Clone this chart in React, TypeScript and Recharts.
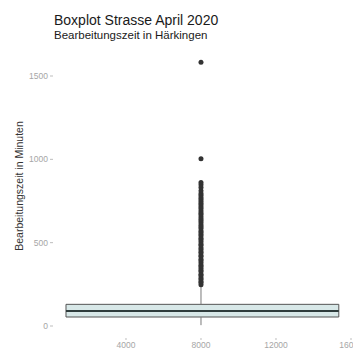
import {
  ComposedChart,
  Scatter,
  XAxis,
  YAxis,
  ReferenceArea,
  ReferenceLine,
} from 'recharts'

// x ticks and y ticks as shown on the axes
const xTicks = [4000, 8000, 12000, 16000]
const yTicks = [0, 500, 1000, 1500]

// box statistics (minutes)
const boxLeft = 800
const boxRight = 15350
const boxCenter = 8000
const q1 = 54
const median = 90
const q3 = 130
const whiskerLow = 5
const whiskerHigh = 240

// outliers above the upper whisker
const outliers = [
  248, 259, 267, 281, 290, 303, 311, 326, 334, 347, 359, 366, 380, 392, 401,
  415, 423, 438, 446, 459, 470, 484, 492, 505, 517, 526, 540, 551, 563, 572,
  586, 597, 608, 621, 633, 644, 655, 669, 678, 690, 703, 714, 726, 737, 749,
  760, 771, 784, 795, 812, 831, 848, 861, 1003, 1583,
]

const points = outliers.map((v) => ({ x: boxCenter, y: v }))

const font = '"Liberation Sans", Arial, sans-serif'
const tickStyle = { fill: '#a6a6a6', fontSize: 8.5, fontFamily: font }

const Dot = (props: any) => (
  <circle cx={props.cx} cy={props.cy} r={2.5} fill="#333333" />
)

export default function App() {
  return (
    <div
      style={{
        position: 'absolute',
        left: 0,
        top: 0,
        width: 353,
        height: 352,
        background: '#fff',
        fontFamily: font,
        overflow: 'hidden',
      }}
    >
      <div
        style={{
          position: 'absolute',
          left: 54,
          top: 12.5,
          fontSize: 14,
          lineHeight: 1,
          color: '#1a1a1a',
          whiteSpace: 'nowrap',
        }}
      >
        Boxplot Strasse April 2020
      </div>
      <div
        style={{
          position: 'absolute',
          left: 54,
          top: 29.6,
          fontSize: 11.5,
          lineHeight: 1,
          color: '#1a1a1a',
          whiteSpace: 'nowrap',
        }}
      >
        Bearbeitungszeit in Härkingen
      </div>
      <div
        style={{
          position: 'absolute',
          left: 19,
          top: 186,
          fontSize: 10.5,
          lineHeight: 1,
          color: '#333',
          whiteSpace: 'nowrap',
          transform: 'translate(-50%, -50%) rotate(-90deg)',
        }}
      >
        Bearbeitungszeit in Minuten
      </div>

      <ComposedChart
        width={353}
        height={352}
        margin={{ top: 48.5, right: 2, bottom: 0, left: 20 }}
        style={{ position: 'absolute', left: 0, top: 0 }}
      >
        <XAxis
          type="number"
          dataKey="x"
          domain={[107, 16000]}
          ticks={xTicks}
          allowDataOverflow
          height={14}
          axisLine={false}
          tickSize={2}
          tickMargin={2}
          tickLine={{ stroke: '#bdbdbd' }}
          tick={tickStyle}
          interval={0}
        />
        <YAxis
          type="number"
          dataKey="y"
          domain={[-72, 1665]}
          ticks={yTicks}
          allowDataOverflow
          width={33}
          axisLine={false}
          tickSize={3}
          tickMargin={2}
          tickLine={{ stroke: '#bdbdbd' }}
          tick={tickStyle}
          interval={0}
        />
        <ReferenceLine
          segment={[
            { x: boxCenter, y: q3 },
            { x: boxCenter, y: whiskerHigh },
          ]}
          stroke="#7a7a7a"
          strokeWidth={1}
        />
        <ReferenceLine
          segment={[
            { x: boxCenter, y: whiskerLow },
            { x: boxCenter, y: q1 },
          ]}
          stroke="#7a7a7a"
          strokeWidth={1}
        />
        <ReferenceArea
          x1={boxLeft}
          x2={boxRight}
          y1={q1}
          y2={q3}
          fill="#d8e8e8"
          fillOpacity={1}
          stroke="#555"
          strokeWidth={1}
        />
        <ReferenceLine
          segment={[
            { x: boxLeft, y: median },
            { x: boxRight, y: median },
          ]}
          stroke="#2f3c3c"
          strokeWidth={2}
        />
        <Scatter data={points} shape={Dot} isAnimationActive={false} />
      </ComposedChart>
    </div>
  )
}
